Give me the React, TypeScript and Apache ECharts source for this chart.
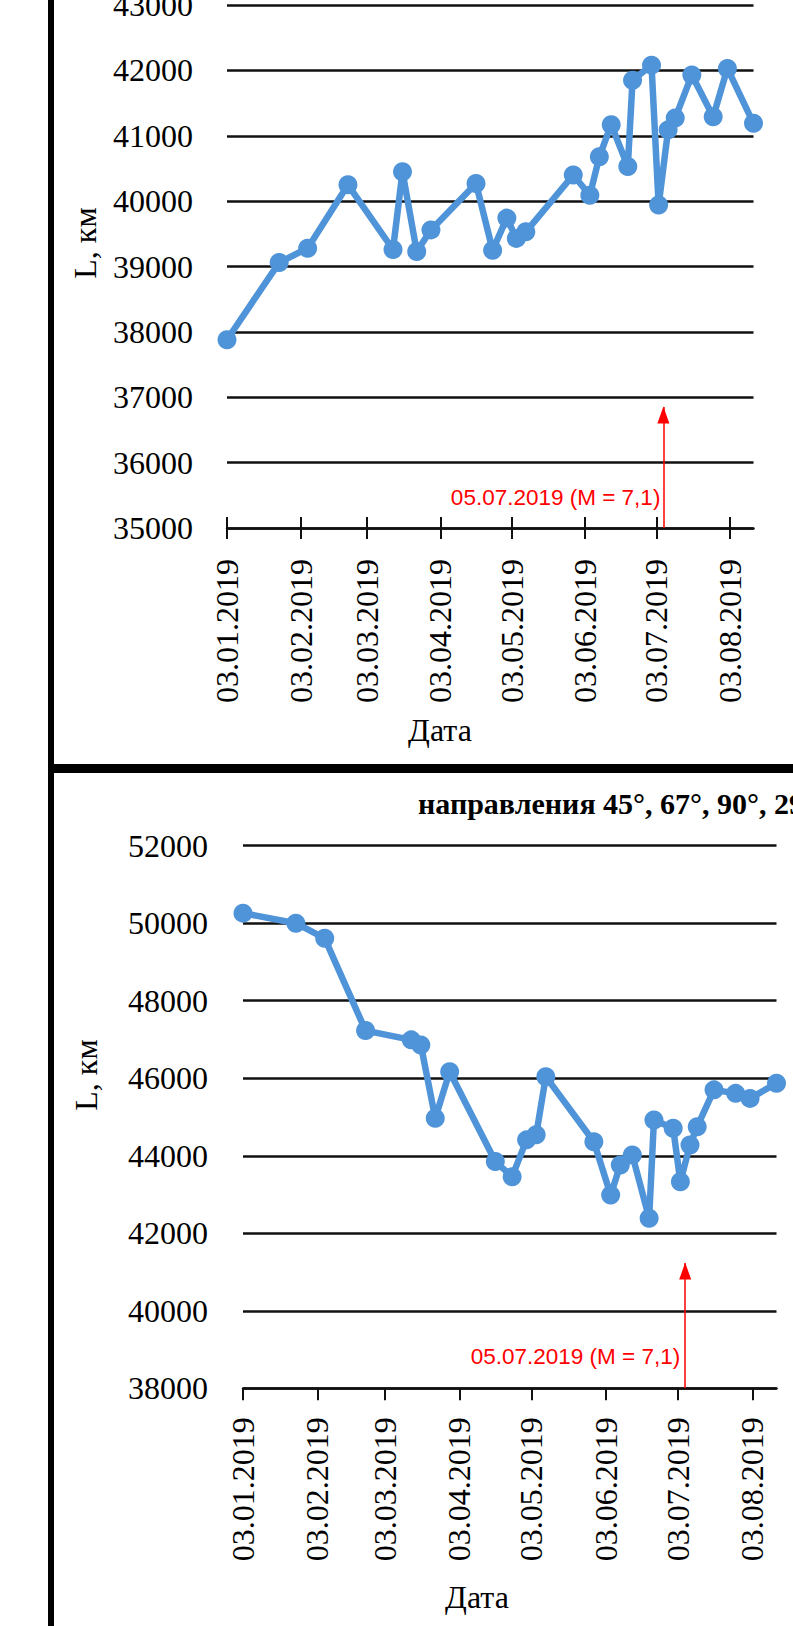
import React, { useEffect, useRef } from "react";
import * as echarts from "echarts";

// ---- data ----
const dates = [
  "2019-01-03", "2019-01-25", "2019-02-06", "2019-02-23", "2019-03-14", "2019-03-18",
  "2019-03-24", "2019-03-30", "2019-04-18", "2019-04-25", "2019-05-01", "2019-05-05",
  "2019-05-09", "2019-05-29", "2019-06-05", "2019-06-09", "2019-06-14", "2019-06-21",
  "2019-06-23", "2019-07-01", "2019-07-04", "2019-07-08", "2019-07-11", "2019-07-18",
  "2019-07-27", "2019-08-02", "2019-08-13",
];
const topValues = [
  37880, 39060, 39280, 40250, 39260, 40450, 39230, 39560, 40270, 39250, 39740, 39430,
  39530, 40400, 40090, 40680, 41170, 40530, 41850, 42080, 39940, 41090, 41270, 41930,
  41290, 42030, 41190,
];
const bottomValues = [
  50260, 50000, 49610, 47230, 46990, 46860, 44970, 46170, 43850, 43460, 44410, 44540,
  46040, 44360, 42990, 43760, 44020, 42390, 44920, 44710, 43330, 44280, 44750, 45700,
  45610, 45480, 45870,
];
const monthTicks = [
  "2019-01-03", "2019-02-03", "2019-03-03", "2019-04-03",
  "2019-05-03", "2019-06-03", "2019-07-03", "2019-08-03",
];
const topYTicks = { min: 35000, max: 43000, interval: 1000 };
const bottomYTicks = { min: 38000, max: 52000, interval: 2000 };

const eventDate = "2019-07-06";
const eventLabel = "05.07.2019 (M = 7,1)";
const topArrowTip = 36850;
const topLabelLevel = 35470;
const bottomArrowTip = 41230;
const bottomLabelLevel = 38810;

const yName = "L, км";
const xName = "Дата";
const bottomTitle = "направления 45°, 67°, 90°, 293°";

// ---- helpers ----
const BASE = Date.parse(dates[0]);
const DAY = 86400000;
const toDay = (s: string) => (Date.parse(s) - BASE) / DAY;
const fmt = (d: number) => {
  const t = new Date(BASE + Math.round(d) * DAY);
  const dd = String(t.getUTCDate()).padStart(2, "0");
  const mm = String(t.getUTCMonth() + 1).padStart(2, "0");
  return `${dd}.${mm}.${t.getUTCFullYear()}`;
};

const SERIF = "'Liberation Serif', 'Times New Roman', serif";
const SANS = "'Liberation Sans', Arial, sans-serif";
const BLUE = "#4f93d8";
const RED = "#ff0000";
const INK = "#111";

export default function App() {
  const ref = useRef<HTMLDivElement>(null);

  useEffect(() => {
    if (!ref.current) return;
    const chart = echarts.init(ref.current, undefined, { renderer: "svg" });

    const tickDays = monthTicks.map(toDay);
    const xMin = toDay(dates[0]);
    const xMax = toDay(dates[dates.length - 1]);
    const evDay = toDay(eventDate);

    const mainX = (gridIndex: number, tickLen: number, margin: number) => ({
      type: "value",
      gridIndex,
      min: xMin,
      max: xMax,
      position: "bottom",
      axisLine: { show: true, onZero: false, lineStyle: { color: INK, width: 2.5 } },
      axisTick: { show: true, customValues: tickDays, length: tickLen, lineStyle: { color: INK, width: 2 } },
      axisLabel: {
        show: true,
        customValues: tickDays,
        rotate: 90,
        margin,
        formatter: (v: number) => fmt(v),
        fontFamily: SERIF,
        fontSize: 32,
        color: "#000",
      },
      splitLine: { show: false },
    });

    const yAx = (gridIndex: number, t: { min: number; max: number; interval: number }, margin: number) => ({
      type: "value",
      gridIndex,
      min: t.min,
      max: t.max,
      interval: t.interval,
      axisLine: { show: false },
      axisTick: { show: false },
      axisLabel: {
        margin,
        formatter: (v: number) => String(v),
        fontFamily: SERIF,
        fontSize: 32,
        color: "#000",
      },
      splitLine: { show: true, lineStyle: { color: INK, width: 2.5 } },
    });

    const eventMarks = (tip: number, labelLevel: number, yMin: number, dist: number) => ({
      markLine: {
        silent: true,
        symbol: ["none", "none"],
        label: { show: false },
        lineStyle: { color: RED, width: 1.5, type: "solid" },
        emphasis: { disabled: true },
        data: [[{ coord: [evDay, yMin] }, { coord: [evDay, tip] }]],
      },
      markPoint: {
        silent: true,
        data: [
          {
            coord: [evDay, tip],
            symbol: "triangle",
            symbolSize: [12, 17],
            symbolOffset: [0, 8],
            itemStyle: { color: RED },
            label: { show: false },
          },
          {
            coord: [evDay, labelLevel],
            symbol: "circle",
            symbolSize: 0,
            itemStyle: { color: "rgba(0,0,0,0)" },
            label: {
              show: true,
              position: "left",
              distance: dist,
              formatter: eventLabel,
              color: RED,
              fontFamily: SANS,
              fontSize: 22.5,
            },
          },
        ],
      },
    });

    const lineSeries = (xi: number, yi: number, values: number[]) => ({
      type: "line",
      xAxisIndex: xi,
      yAxisIndex: yi,
      data: dates.map((d, i) => [toDay(d), values[i]]),
      symbol: "circle",
      symbolSize: 19,
      lineStyle: { color: BLUE, width: 6.5 },
      itemStyle: { color: BLUE },
      clip: false,
      z: 3,
    });

    const topGridH = 523;

    chart.setOption({
      animation: false,
      backgroundColor: "#fff",
      grid: [
        { left: 227, right: 39.5, top: 5, height: topGridH, outerBoundsMode: "none", containLabel: false },
        { left: 243, right: 16.5, top: 845.7, height: 542.6, outerBoundsMode: "none", containLabel: false },
      ],
      xAxis: [
        mainX(0, 11, 31),
        {
          type: "value",
          gridIndex: 0,
          min: xMin,
          max: xMax,
          position: "top",
          offset: -topGridH,
          axisLine: { show: false },
          axisTick: { show: true, customValues: tickDays, length: 11, lineStyle: { color: INK, width: 2 } },
          axisLabel: { show: false },
          splitLine: { show: false },
        },
        mainX(1, 12, 29),
      ],
      yAxis: [yAx(0, topYTicks, 34), yAx(1, bottomYTicks, 35)],
      series: [
        { ...lineSeries(0, 0, topValues), ...eventMarks(topArrowTip, topLabelLevel, topYTicks.min, 3) },
        { ...lineSeries(2, 1, bottomValues), ...eventMarks(bottomArrowTip, bottomLabelLevel, bottomYTicks.min, 5) },
      ],
      graphic: [
        { type: "rect", shape: { x: 48, y: 0, width: 6, height: 1626 }, style: { fill: "#000" }, z: 100 },
        { type: "rect", shape: { x: 48, y: 764, width: 745, height: 9 }, style: { fill: "#000" }, z: 100 },
        {
          type: "text",
          x: 418,
          y: 803,
          style: {
            text: bottomTitle,
            fontFamily: SERIF,
            fontSize: 30,
            fontWeight: "bold",
            fill: "#000",
            align: "left",
            verticalAlign: "middle",
          },
        },
        {
          type: "text",
          x: 85,
          y: 243,
          rotation: Math.PI / 2,
          style: { text: yName, fontFamily: SERIF, fontSize: 32, fill: "#000", align: "center", verticalAlign: "middle" },
        },
        {
          type: "text",
          x: 86,
          y: 1075,
          rotation: Math.PI / 2,
          style: { text: yName, fontFamily: SERIF, fontSize: 32, fill: "#000", align: "center", verticalAlign: "middle" },
        },
        {
          type: "text",
          x: 440,
          y: 730,
          style: { text: xName, fontFamily: SERIF, fontSize: 32, fill: "#000", align: "center", verticalAlign: "middle" },
        },
        {
          type: "text",
          x: 477,
          y: 1597,
          style: { text: xName, fontFamily: SERIF, fontSize: 32, fill: "#000", align: "center", verticalAlign: "middle" },
        },
      ],
    });

    return () => chart.dispose();
  }, []);

  return (
    <div
      ref={ref}
      style={{ position: "absolute", left: 0, top: 0, width: 793, height: 1626, background: "#fff" }}
    />
  );
}
